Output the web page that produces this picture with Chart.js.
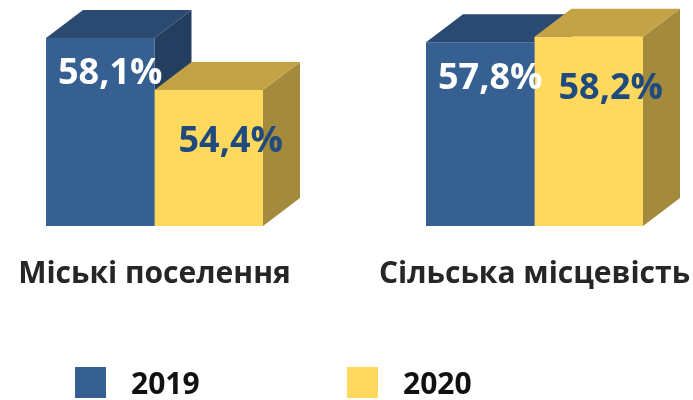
<!DOCTYPE html>
<html>
<head>
<meta charset="utf-8">
<script src="https://cdn.jsdelivr.net/npm/chart.js@4"></script>
<style>
  body { margin: 0; background: #fff; }
  #wrap { position: relative; width: 693px; height: 400px; }
  #legend { position: absolute; left: 75px; top: 367px; display: flex; font-family: "Open Sans", sans-serif; font-weight: bold; font-size: 30px; line-height: 31px; color: #111; }
  .item { display: flex; align-items: center; width: 272px; height: 31px; }
  .box { width: 31px; height: 31px; margin-right: 25px; }
</style>
</head>
<body>
<div id="wrap">
  <canvas id="myCanvas" width="693" height="400"></canvas>
  <div id="legend"></div>
</div>
<script>
const categories = ["Міські поселення", "Сільська місцевість"];
const seriesNames = ["2019", "2020"];
const values2019 = [58.1, 57.8];
const values2020 = [54.4, 58.2];

const yMin = 44.7;
const yMax = 60.1;

// colours: front, top, side, label
const blue = { front: "#366092", top: "#2B4A71", side: "#233E5F", text: "#ffffff" };
const gold = { front: "#FFD95E", top: "#C4A346", side: "#A48A3C", text: "#1F4A7E" };

const depthX = 37;
const depthY = -28;

Chart.defaults.font.family = "'Open Sans', sans-serif";

function poly(ctx, pts, color) {
  ctx.beginPath();
  ctx.moveTo(pts[0][0], pts[0][1]);
  for (let i = 1; i < pts.length; i++) {
    ctx.lineTo(pts[i][0], pts[i][1]);
  }
  ctx.closePath();
  ctx.fillStyle = color;
  ctx.fill();
}

const cubes = {
  id: "cubes",
  beforeDatasetsDraw(chart) {
    const ctx = chart.ctx;
    ctx.save();
    chart.data.datasets.forEach((ds, di) => {
      const meta = chart.getDatasetMeta(di);
      meta.data.forEach((bar) => {
        const { x, y, base, width } = bar.getProps(["x", "y", "base", "width"], true);
        const l = x - width / 2;
        const r = x + width / 2;
        poly(ctx, [[r, y], [r + depthX, y + depthY], [r + depthX, base + depthY], [r, base]], ds.sideColor);
        poly(ctx, [[l, y], [r, y], [r + depthX, y + depthY], [l + depthX, y + depthY]], ds.topColor);
      });
    });
    ctx.restore();
  },
  afterDatasetsDraw(chart) {
    const ctx = chart.ctx;
    ctx.save();
    ctx.font = "bold 36px 'Open Sans'";
    ctx.textAlign = "center";
    ctx.textBaseline = "middle";
    chart.data.datasets.forEach((ds, di) => {
      const meta = chart.getDatasetMeta(di);
      meta.data.forEach((bar, i) => {
        const v = ds.data[i].y;
        ctx.fillStyle = ds.labelColor;
        ctx.fillText(v.toFixed(1).replace(".", ",") + "%", bar.x + ds.labelShift[0], bar.y + ds.labelShift[1]);
      });
    });
    ctx.restore();
  }
};

const ctx = document.getElementById("myCanvas").getContext("2d");
const chart = new Chart(ctx, {
  type: "bar",
  data: {
    datasets: [
      {
        label: seriesNames[0],
        data: values2019.map((v, i) => ({ x: i, y: v })),
        backgroundColor: blue.front,
        topColor: blue.top,
        sideColor: blue.side,
        labelColor: blue.text,
        labelShift: [10, 36]
      },
      {
        label: seriesNames[1],
        data: values2020.map((v, i) => ({ x: i, y: v })),
        backgroundColor: gold.front,
        topColor: gold.top,
        sideColor: gold.side,
        labelColor: gold.text,
        labelShift: [22, 52]
      }
    ]
  },
  options: {
    responsive: false,
    animation: false,
    devicePixelRatio: 1,
    base: yMin,
    categoryPercentage: 0.571,
    barPercentage: 1,
    layout: { padding: { top: 10, bottom: 108, left: 0, right: 0 } },
    plugins: {
      legend: { display: false },
      tooltip: { enabled: false }
    },
    scales: {
      x: {
        type: "linear",
        min: -0.4066,
        max: 1.4171,
        offset: false,
        grid: { display: false, drawTicks: true, tickLength: 30 },
        border: { display: false },
        afterBuildTicks: (axis) => {
          axis.ticks = categories.map((c, i) => ({ value: i }));
        },
        ticks: {
          autoSkip: false,
          maxRotation: 0,
          padding: 0,
          color: "#262626",
          font: { size: 30, weight: "bold" },
          callback: (v) => categories[v]
        }
      },
      y: {
        display: false,
        min: yMin,
        max: yMax
      }
    }
  },
  plugins: [cubes]
});

const legend = document.getElementById("legend");
chart.data.datasets.forEach((ds) => {
  const item = document.createElement("div");
  item.className = "item";
  const box = document.createElement("span");
  box.className = "box";
  box.style.background = ds.backgroundColor;
  item.appendChild(box);
  item.appendChild(document.createTextNode(ds.label));
  legend.appendChild(item);
});
</script>
</body>
</html>
